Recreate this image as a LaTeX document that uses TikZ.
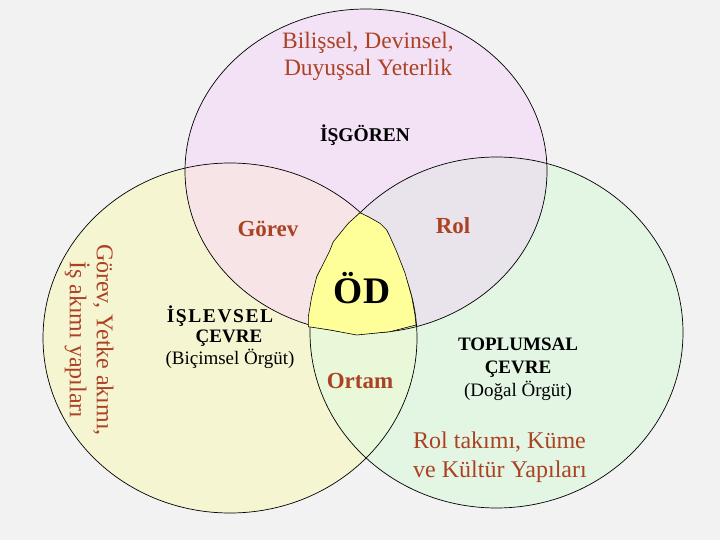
\documentclass[tikz,border=0pt]{standalone}
\usepackage{fontspec}
\setmainfont{Liberation Serif}
\definecolor{bgc}{HTML}{F2F2F2}
\definecolor{topc}{HTML}{F3E1F5}
\definecolor{leftc}{HTML}{F5F5D2}
\definecolor{rightc}{HTML}{E3F5E3}
\definecolor{tlc}{HTML}{F7E4E6}
\definecolor{trc}{HTML}{E9E3EC}
\definecolor{lrc}{HTML}{E8F8D8}
\definecolor{odc}{HTML}{FFFF99}
\definecolor{brn}{RGB}{172,66,36}
\begin{document}
\begin{tikzpicture}[x=1pt,y=-1pt,
  outl/.style={draw=black,line width=0.7pt},
  brtext/.style={text=brn,align=center,inner sep=0pt},
  bktext/.style={text=black,align=center,inner sep=0pt}]
\useasboundingbox (0,0) rectangle (720,540);
\fill[bgc] (0,0) rectangle (720,540);
\def\ET{(366,171) ellipse [x radius=181, y radius=162]}
\def\EL{(230,338) ellipse [x radius=187, y radius=175]}
\def\ER{(496.5,332.5) ellipse [x radius=186.5, y radius=175.5]}
\fill[topc] \ET;
\fill[leftc] \EL;
\fill[rightc] \ER;
\begin{scope}\clip \ET; \fill[tlc] \EL; \end{scope}
\begin{scope}\clip \ET; \fill[trc] \ER; \end{scope}
\begin{scope}\clip \EL; \fill[lrc] \ER; \end{scope}
\draw[outl] \ET;
\draw[outl] \EL;
\draw[outl] \ER;
% central region
\draw[fill=odc,draw=black,line width=0.6pt]
 (360,212.7) -- (348.3,223.3) -- (333.3,241.7) -- (329.3,251.7) -- (316.7,276.7)
 -- (311.7,296.7) -- (308.3,316.7) -- (308.3,326.7) -- (330,330) -- (356.7,335)
 -- (390,331.7) -- (416,325) -- (415,315) -- (411.7,296.7) -- (405,273)
 -- (396.7,251.7) -- (390,236.7) -- (386.7,230) -- (380,223.3) -- (368.3,216.7) -- cycle;
% texts
\node[brtext,font=\fontsize{23.5}{27}\selectfont] (yet) at (368,56) {Bilişsel, Devinsel,\\Duyuşsal Yeterlik};
\node[bktext,font=\fontsize{19.5}{22}\selectfont\bfseries] (isg) at (365,135) {İŞGÖREN};
\node[brtext,font=\fontsize{23}{26}\selectfont\bfseries] (gorev) at (268,229) {Görev};
\node[brtext,font=\fontsize{23}{26}\selectfont\bfseries] (rol) at (453,226) {Rol};
\node[bktext,font=\fontsize{37.5}{42}\selectfont\bfseries] (od) at (362,288) {ÖD};
\node[brtext,font=\fontsize{23}{26}\selectfont\bfseries] (ortam) at (360,381) {Ortam};
\node[bktext,font=\fontsize{19.5}{22}\selectfont\bfseries\addfontfeatures{LetterSpace=8}] (islev1) at (220,316) {İŞLEVSEL};
\node[bktext,font=\fontsize{19}{22}\selectfont\bfseries] (islev2) at (229,338) {ÇEVRE};
\node[bktext,font=\fontsize{19}{22}\selectfont] (islev3) at (230,359) {(Biçimsel Örgüt)};
\node[bktext,font=\fontsize{19}{23}\selectfont] (toplum) at (518,369) {\textbf{TOPLUMSAL}\\\textbf{ÇEVRE}\\(Doğal Örgüt)};
\node[brtext,align=left,anchor=west,font=\fontsize{24}{29}\selectfont] (kume) at (413,457) {Rol takımı, Küme\\ve Kültür Yapıları};
\node[brtext,rotate=-90,font=\fontsize{24}{27}\selectfont] (gyi) at (89,340) {Görev, Yetke akımı,\\İş akımı yapıları};
\end{tikzpicture}
\end{document}
